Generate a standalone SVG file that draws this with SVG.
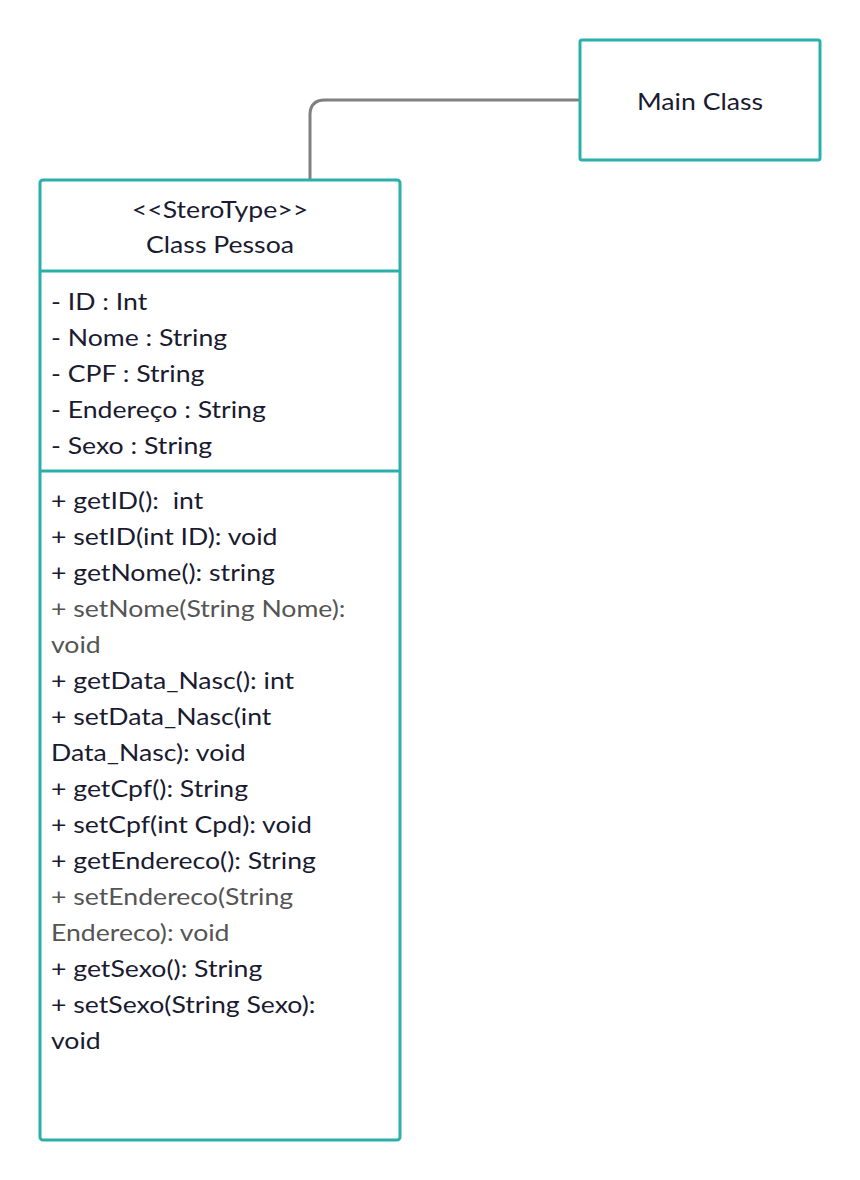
<svg xmlns="http://www.w3.org/2000/svg" width="860" height="1180" viewBox="0 0 860 1180">
<style>
.box{fill:#ffffff;stroke:#2aafab;stroke-width:3}
.div{stroke:#2aafab;stroke-width:3}
.t{font-family:Lato,"Open Sans","Liberation Sans",sans-serif;font-size:24px;fill:#1a1a30}
.m{text-anchor:middle}
.g{fill:#555555}
.c{fill:none;stroke:#808080;stroke-width:3}
</style>
<rect width="860" height="1180" fill="#ffffff"/>
<g id="connectors">
<path class="c" d="M310,180 V115 Q310,100 325,100 H580"/>
</g>
<g id="main-class">
<rect class="box" x="580" y="40" width="240" height="120" rx="2"/>
<g transform="translate(700 0) scale(1.11 1)">
<text class="t m" x="0" y="110">Main Class</text>
</g>
</g>
<g id="class-pessoa">
<rect class="box" x="40" y="180" width="360" height="960" rx="3"/>
<line class="div" x1="40" y1="271" x2="400" y2="271"/>
<line class="div" x1="40" y1="471" x2="400" y2="471"/>
<g transform="translate(220 0) scale(1.11 1)">
<text class="t m" x="0" y="218">&lt;&lt;SteroType&gt;&gt;</text>
<text class="t m" x="0" y="253">Class Pessoa</text>
</g>
<g transform="translate(51 0) scale(1.11 1)">
<text class="t" x="0" y="310">- ID : Int</text>
<text class="t" x="0" y="346">- Nome : String</text>
<text class="t" x="0" y="382">- CPF : String</text>
<text class="t" x="0" y="418">- Endereço : String</text>
<text class="t" x="0" y="454">- Sexo : String</text>
<text class="t" x="0" y="509" xml:space="preserve">+ getID():  int</text>
<text class="t" x="0" y="545">+ setID(int ID): void</text>
<text class="t" x="0" y="581">+ getNome(): string</text>
<text class="t g" x="0" y="617">+ setNome(String Nome):</text>
<text class="t g" x="0" y="653">void</text>
<text class="t" x="0" y="689">+ getData_Nasc(): int</text>
<text class="t" x="0" y="725">+ setData_Nasc(int</text>
<text class="t" x="0" y="761">Data_Nasc): void</text>
<text class="t" x="0" y="797">+ getCpf(): String</text>
<text class="t" x="0" y="833">+ setCpf(int Cpd): void</text>
<text class="t" x="0" y="869">+ getEndereco(): String</text>
<text class="t g" x="0" y="905">+ setEndereco(String</text>
<text class="t g" x="0" y="941">Endereco): void</text>
<text class="t" x="0" y="977">+ getSexo(): String</text>
<text class="t" x="0" y="1013">+ setSexo(String Sexo):</text>
<text class="t" x="0" y="1049">void</text>
</g>
</g>
</svg>
